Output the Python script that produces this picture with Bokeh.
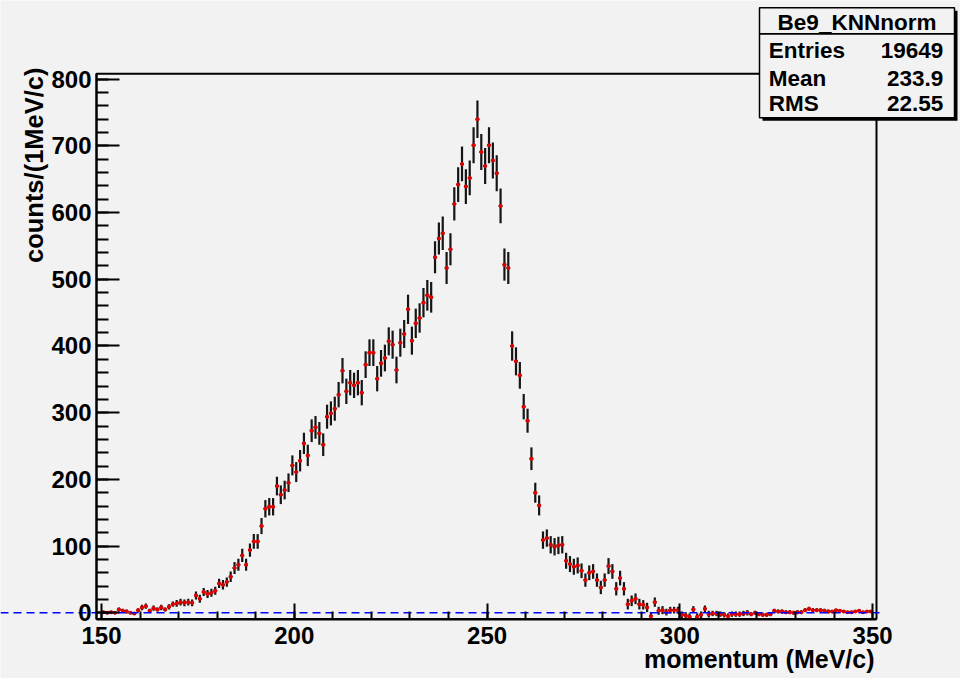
import numpy as np
from bokeh.plotting import figure
from bokeh.models import (ColumnDataSource, Label, BoxAnnotation, FixedTicker, Range1d, LinearAxis)
from bokeh.embed import file_html
from bokeh.resources import INLINE

# ---------------- data ----------------
hist_name = "Be9_KNNnorm"
bin_low_edge = 150.0
bin_width = 1.0

counts = [
    1, 0, 1, 0, 5, 3, 2, 0, -1, 4,
    8, 10, 3, 7, 5, 8, 5, 9, 13, 14,
    16, 15, 16, 15, 26, 21, 31, 28, 30, 33,
    44, 42, 46, 54, 67, 72, 86, 72, 94, 107,
    107, 130, 156, 159, 159, 190, 177, 184, 195, 221,
    211, 228, 254, 236, 273, 278, 269, 252, 294, 299,
    306, 327, 363, 332, 345, 341, 345, 330, 372, 390,
    390, 351, 374, 382, 407, 402, 364, 405, 418, 455,
    408, 434, 442, 465, 476, 473, 533, 561, 569, 517,
    545, 613, 642, 673, 639, 652, 701, 740, 691, 670,
    701, 678, 659, 610, 522, 517, 400, 377, 356, 309,
    288, 231, 180, 161, 109, 112, 102, 99, 101, 102,
    78, 73, 69, 71, 63, 49, 60, 62, 49, 38,
    49, 70, 62, 36, 52, 36, 13, 18, 21, 13,
    12, 8, -5, 16, 3, 4, 1, 4, 4, 4,
    -3, -4, -6, 5, -6, -3, 6, -2, -1, -1,
    -2, -3, -5, -2, -2, -2, -1, 0, -2, 0,
    -2, -3, -3, -2, 3, 2, 2, 1, 1, 0,
    1, 1, 4, 6, 4, 4, 4, 3, 2, 2,
    4, 3, 2, 1, 1, 2, 3, 1, 2, 2,
]

errors = [
    2, 2, 2, 2, 3, 3, 3, 2, 2, 3,
    4, 4, 3, 4, 3, 4, 3, 4, 4, 5,
    5, 5, 5, 5, 6, 6, 6, 6, 6, 6,
    7, 7, 7, 8, 9, 9, 10, 9, 10, 11,
    11, 12, 13, 13, 13, 14, 14, 14, 14, 15,
    15, 16, 16, 16, 17, 17, 17, 17, 18, 18,
    18, 19, 19, 19, 19, 19, 19, 19, 20, 20,
    20, 19, 20, 20, 21, 21, 20, 21, 21, 22,
    21, 22, 22, 22, 23, 23, 24, 24, 25, 24,
    24, 25, 26, 26, 26, 26, 27, 28, 27, 27,
    27, 27, 27, 26, 24, 24, 22, 21, 20, 19,
    18, 17, 15, 15, 13, 13, 13, 13, 13, 13,
    12, 12, 12, 12, 11, 10, 11, 11, 10, 10,
    10, 12, 11, 10, 11, 10, 8, 8, 8, 8,
    7, 7, 6, 7, 6, 6, 5, 5, 5, 5,
    5, 5, 5, 5, 5, 5, 5, 5, 4, 4,
    4, 4, 4, 4, 4, 4, 4, 4, 3, 3,
    3, 3, 3, 3, 3, 3, 3, 3, 3, 3,
    3, 3, 3, 3, 3, 3, 3, 3, 3, 2,
    2, 2, 2, 2, 2, 2, 2, 2, 2, 2,
]

stats_labels = ["Entries", "Mean", "RMS"]
stats_values = ["19649", "233.9", "22.55"]

x_major_ticks = [150, 200, 250, 300, 350]
x_minor_ticks = list(range(150, 351, 10))
y_major_ticks = [0, 100, 200, 300, 400, 500, 600, 700, 800]
y_minor_ticks = list(range(0, 801, 20))

x_title = "momentum (MeV/c)"
y_title = "counts/(1MeV/c)"

# ---------------- layout constants ----------------
W, H = 960, 678
X_LO, X_HI = 148.7, 351.0          # axis range of the histogram frame
Y_LO, Y_HI = -9.3, 808.1
FL, FR, FT, FB = 96, 876, 73.3, 618.5  # frame box in canvas pixels

ux = (X_HI - X_LO) / (FR - FL)
uy = (Y_HI - Y_LO) / (FB - FT)
x_range = Range1d(X_LO - FL * ux, X_HI + (W - FR) * ux)
y_range = Range1d(Y_LO - (H - FB) * uy, Y_HI + FT * uy)

# ---------------- build ----------------
n = len(counts)
centers = bin_low_edge + bin_width * (np.arange(n) + 0.5)
cnt = np.array(counts, dtype=float)
err = np.array(errors, dtype=float)

src = ColumnDataSource(dict(
    x=centers, y=cnt,
    xl=centers - bin_width / 2, xr=centers + bin_width / 2,
    ylo=np.maximum(cnt - err, Y_LO), yhi=np.minimum(cnt + err, Y_HI),
))

BG = "#f2f2f2"
FONT = "Liberation Sans"

p = figure(width=W, height=H, output_backend="svg", toolbar_location=None,
           x_range=x_range, y_range=y_range, title=None,
           x_axis_type=None, y_axis_type=None,
           min_border=0, min_border_left=0, min_border_right=0,
           min_border_top=0, min_border_bottom=0,
           background_fill_color=BG, border_fill_color=BG,
           outline_line_color=None)
p.grid.visible = False

xaxis = LinearAxis(fixed_location=Y_LO, bounds=(X_LO, X_HI),
                   ticker=FixedTicker(ticks=x_major_ticks, minor_ticks=x_minor_ticks))
yaxis = LinearAxis(fixed_location=X_LO, bounds=(Y_LO, Y_HI),
                   ticker=FixedTicker(ticks=y_major_ticks, minor_ticks=y_minor_ticks))
for ax in (xaxis, yaxis):
    ax.axis_line_color = "black"
    ax.axis_line_width = 2
    ax.major_tick_line_color = "black"
    ax.minor_tick_line_color = "black"
    ax.major_tick_line_width = 2
    ax.minor_tick_line_width = 2
    ax.major_tick_out = 0
    ax.minor_tick_out = 0
    ax.major_label_text_font = FONT
    ax.major_label_text_font_style = "bold"
    ax.major_label_text_font_size = "24px"
    ax.major_label_text_color = "black"
xaxis.major_tick_in = 16
xaxis.minor_tick_in = 8
xaxis.major_label_standoff = 8
yaxis.major_tick_in = 23
yaxis.minor_tick_in = 12
yaxis.major_label_standoff = 5
p.add_layout(xaxis, "below")
p.add_layout(yaxis, "left")

# frame box (top and right edges)
p.add_layout(BoxAnnotation(left=X_LO, right=X_HI, bottom=Y_LO, top=Y_HI,
                           fill_alpha=0, line_color="black", line_alpha=1, line_width=2,
                           level="underlay"))

# error bars and markers
p.segment(x0="x", y0="ylo", x1="x", y1="yhi", source=src, line_color="#151515", line_width=2.2)
p.segment(x0="xl", y0="y", x1="xr", y1="y", source=src, line_color="#151515", line_width=2)
p.scatter(x="x", y="y", source=src, size=4, marker="circle", fill_color="#e00000", line_color=None)

# dashed zero line across the pad
p.line(x=[x_range.start, X_HI + 1.0], y=[0, 0], line_color="#0000ff", line_width=1.6,
       line_dash="8 5")

# axis titles
p.add_layout(Label(x=874, y=H - 658, x_units="screen", y_units="screen", text=x_title,
                   text_align="right", text_baseline="alphabetic", text_font=FONT,
                   text_font_style="bold", text_font_size="25px", text_color="black"))
p.add_layout(Label(x=33, y=H - 67, x_units="screen", y_units="screen", text=y_title,
                   angle=np.pi / 2, text_align="right", text_baseline="alphabetic",
                   text_font=FONT, text_font_style="bold", text_font_size="25.5px",
                   text_color="black"))

# stats box (with shadow)
def sbox(l, r, t, b, **kw):
    return BoxAnnotation(left=l, right=r, top=H - t, bottom=H - b,
                         left_units="screen", right_units="screen", top_units="screen",
                         bottom_units="screen", level="overlay", **kw)

p.add_layout(sbox(762, 957, 10.3, 120.3, fill_color="black", fill_alpha=1, line_color=None))
p.add_layout(sbox(759, 954, 33.3, 117.3, fill_color=BG, fill_alpha=1,
                  line_color="black", line_alpha=1, line_width=1.5))
p.add_layout(sbox(759, 954, 7.3, 33.3, fill_color=BG, fill_alpha=1,
                  line_color="black", line_alpha=1, line_width=1.5))

SHIFT = 9  # label anchor offset so glyph baselines land where the reference has them
p.add_layout(Label(x=856.5, y=H - 30.7 + SHIFT, x_units="screen", y_units="screen", text=hist_name,
                   text_align="center", text_baseline="alphabetic", text_font=FONT,
                   text_font_style="bold", text_font_size="22.5px", text_color="black",
                   level="overlay"))
stat_baselines = [59.3, 87.3, 111.7]
for lab, val, yb in zip(stats_labels, stats_values, stat_baselines):
    p.add_layout(Label(x=768.3, y=H - yb + SHIFT, x_units="screen", y_units="screen", text=lab,
                       text_align="left", text_baseline="alphabetic", text_font=FONT,
                       text_font_style="bold", text_font_size="22.5px", text_color="black",
                       level="overlay"))
    p.add_layout(Label(x=942.7, y=H - yb + SHIFT, x_units="screen", y_units="screen", text=val,
                       text_align="right", text_baseline="alphabetic", text_font=FONT,
                       text_font_style="bold", text_font_size="22.5px", text_color="black",
                       level="overlay"))

open("out.html", "w").write(file_html(p, INLINE))
